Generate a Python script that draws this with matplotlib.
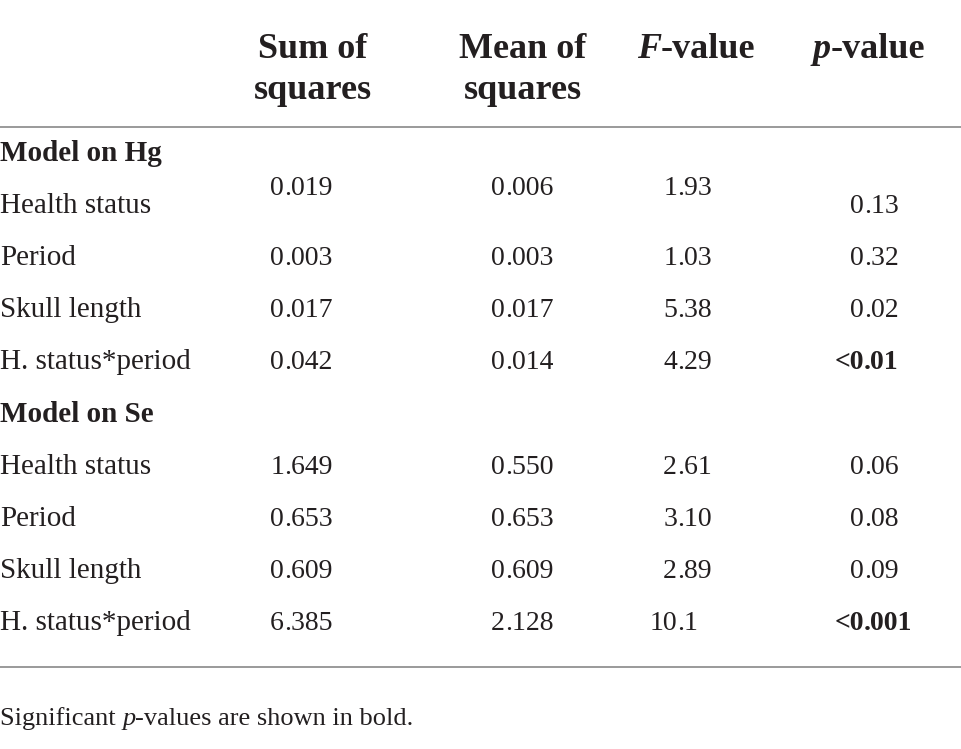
import matplotlib
matplotlib.use("Agg")
import matplotlib.pyplot as plt

FONT = "Liberation Serif"

# ---- data ----
col_headers = [["Sum of", "squares"], ["Mean of", "squares"], ["F", "-value"], ["p", "-value"]]
group_names = ["Model on Hg", "Model on Se"]
row_labels = ["Health status", "Period", "Skull length", "H. status*period"]

sum_hg = ["0.019", "0.003", "0.017", "0.042"]
mean_hg = ["0.006", "0.003", "0.017", "0.014"]
f_hg = ["1.93", "1.03", "5.38", "4.29"]
p_hg = ["0.13", "0.32", "0.02", "<0.01"]
sig_hg = [False, False, False, True]

sum_se = ["1.649", "0.653", "0.609", "6.385"]
mean_se = ["0.550", "0.653", "0.609", "2.128"]
f_se = ["2.61", "3.10", "2.89", "10.1"]
p_se = ["0.06", "0.08", "0.09", "<0.001"]
sig_se = [False, False, False, True]

footnote = ["Significant ", "p", "-values are shown in bold."]

# ---- layout ----
W, H = 962, 749
fig = plt.figure(figsize=(W / 100, H / 100), dpi=100)
ax = fig.add_axes([0, 0, 1, 1])
ax.set_xlim(0, W)
ax.set_ylim(H, 0)
ax.axis("off")

FS = 21      # row labels
NFS = 20     # numbers
HFS = 26     # headers
color = "#231f20"

def seq_text(x, y, pieces, styles, size, weight, ha="center"):
    fig.canvas.draw()
    r = fig.canvas.get_renderer()
    widths = []
    for p, st in zip(pieces, styles):
        t = ax.text(0, y, p, fontsize=size, family=FONT, style=st, weight=weight, color=color)
        widths.append(t.get_window_extent(renderer=r).width)
        t.remove()
    total = sum(widths)
    cur = x - total / 2 if ha == "center" else x
    for p, st, w in zip(pieces, styles, widths):
        ax.text(cur, y, p, fontsize=size, family=FONT, style=st, weight=weight,
                color=color, va="baseline", ha="left")
        cur += w

# headers
hdr_x = [313, 523, 696, 869]
for i, (hx, hd) in enumerate(zip(hdr_x, col_headers)):
    if i < 2:
        ax.text(hx, 58, hd[0], fontsize=HFS, family=FONT, weight="bold", ha="center", va="baseline", color=color)
        ax.text(hx, 99, hd[1], fontsize=HFS, family=FONT, weight="bold", ha="center", va="baseline", color=color)
    else:
        seq_text(hx, 58, hd, ["italic", "normal"], HFS, "bold")

# rules
ax.plot([0, W], [127, 127], color="#9a9a9a", lw=1.4, solid_capstyle="butt")
ax.plot([0, W], [667, 667], color="#9a9a9a", lw=1.4, solid_capstyle="butt")

dec_x = [284, 505, 677, 864]

def dec_text(xd, y, s, bold=False):
    w = "bold" if bold else "normal"
    ip, fp = s.split(".")
    ax.text(xd, y, ip, fontsize=NFS, family=FONT, weight=w, ha="right", va="baseline", color=color)
    ax.text(xd, y, "." + fp, fontsize=NFS, family=FONT, weight=w, ha="left", va="baseline", color=color)

groups = [
    (sum_hg, mean_hg, f_hg, p_hg, sig_hg),
    (sum_se, mean_se, f_se, p_se, sig_se),
]
group_y = [161, 422]
step = 52
for g, (gname, gy) in enumerate(zip(group_names, group_y)):
    ax.text(0, gy, gname, fontsize=FS, family=FONT, weight="bold", ha="left", va="baseline", color=color)
    sm, mn, fv, pv, sg = groups[g]
    for i, lab in enumerate(row_labels):
        y = gy + step * (i + 1)
        ax.text(0, y, lab, fontsize=FS, family=FONT, ha="left", va="baseline", color=color)
        yv = y - 18 if (g == 0 and i == 0) else y
        dec_text(dec_x[0], yv, sm[i])
        dec_text(dec_x[1], yv, mn[i])
        dec_text(dec_x[2], yv, fv[i])
        dec_text(dec_x[3], y, pv[i], bold=sg[i])

seq_text(0, 725, footnote, ["normal", "italic", "normal"], 19, "normal", ha="left")

fig.savefig("out.png", dpi=100)
